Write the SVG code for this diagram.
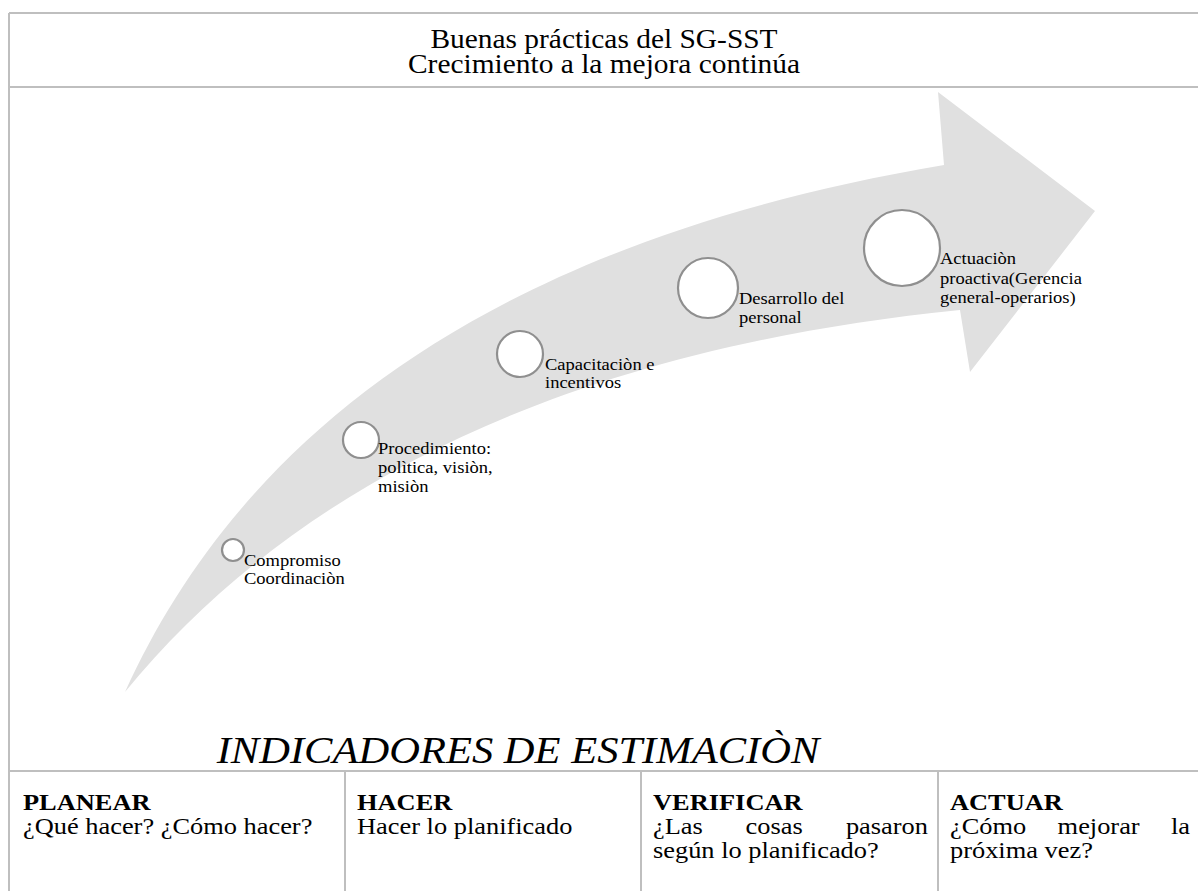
<svg xmlns="http://www.w3.org/2000/svg" width="1198" height="891" viewBox="0 0 1198 891">
  <style>
    text { font-family: "Liberation Serif", "Times New Roman", serif; fill: #000; }
    .title { font-size: 27.5px; }
    .lbl { font-size: 17px; }
    .grid { stroke: #bfbfbf; stroke-width: 2; fill: none; }
    .dot { fill: #fff; stroke: #8f8f8f; stroke-width: 2.2; }
    .head { font-size: 24px; font-weight: bold; }
    .cell { font-size: 24px; }
    .ind { font-size: 38px; font-style: italic; }
  </style>

  <!-- table frame -->
  <g id="frame" class="grid">
    <line x1="9" y1="13" x2="1198" y2="13"/>
    <line x1="9" y1="13" x2="9" y2="891"/>
    <line x1="9" y1="87" x2="1198" y2="87"/>
    <line x1="9" y1="771" x2="1198" y2="771"/>
    <line x1="345" y1="771" x2="345" y2="891"/>
    <line x1="641" y1="771" x2="641" y2="891"/>
    <line x1="938" y1="771" x2="938" y2="891"/>
  </g>

  <!-- header: text is set slightly wide (x-scaled) -->
  <g id="title">
    <text class="title" text-anchor="middle" transform="translate(604,48) scale(1.07,1)">Buenas prácticas del SG-SST</text>
    <text class="title" text-anchor="middle" transform="translate(604,73) scale(1.07,1)">Crecimiento a la mejora continúa</text>
  </g>

  <!-- curved growth arrow -->
  <g id="arrow">
    <path d="M125,692 C235,450 470,245 944,165 L938,92 L1095,211 L970,372 L960,310 C560,350 290,490 125,692 Z" fill="#e0e0e0"/>
  </g>

  <g id="step1">
    <circle class="dot" cx="233" cy="550" r="11"/>
    <text class="lbl" transform="translate(244,566) scale(1.09,1)">Compromiso</text>
    <text class="lbl" transform="translate(244,584) scale(1.09,1)">Coordinaciòn</text>
  </g>
  <g id="step2">
    <circle class="dot" cx="361" cy="440" r="18"/>
    <text class="lbl" transform="translate(378,454) scale(1.09,1)">Procedimiento:</text>
    <text class="lbl" transform="translate(378,473) scale(1.09,1)">polìtica, visiòn,</text>
    <text class="lbl" transform="translate(378,492) scale(1.09,1)">misiòn</text>
  </g>
  <g id="step3">
    <circle class="dot" cx="520" cy="354" r="23"/>
    <text class="lbl" transform="translate(545,370) scale(1.09,1)">Capacitaciòn e</text>
    <text class="lbl" transform="translate(545,388) scale(1.09,1)">incentivos</text>
  </g>
  <g id="step4">
    <circle class="dot" cx="708" cy="288" r="30"/>
    <text class="lbl" transform="translate(739,304) scale(1.09,1)">Desarrollo del</text>
    <text class="lbl" transform="translate(739,323) scale(1.09,1)">personal</text>
  </g>
  <g id="step5">
    <circle class="dot" cx="902" cy="248" r="38"/>
    <text class="lbl" transform="translate(940,264) scale(1.09,1)">Actuaciòn</text>
    <text class="lbl" transform="translate(940,284) scale(1.09,1)">proactiva(Gerencia</text>
    <text class="lbl" transform="translate(940,303) scale(1.09,1)">general-operarios)</text>
  </g>

  <g id="indicators">
    <text class="ind" text-anchor="middle" transform="translate(518,763) scale(1.12,1)">INDICADORES DE ESTIMACIÒN</text>
  </g>

  <!-- PHVA cells -->
  <g id="planear">
    <text class="head" transform="translate(23,810) scale(1.1,1)">PLANEAR</text>
    <text class="cell" transform="translate(23,834) scale(1.1,1)">¿Qué hacer? ¿Cómo hacer?</text>
  </g>
  <g id="hacer">
    <text class="head" transform="translate(357,810) scale(1.1,1)">HACER</text>
    <text class="cell" transform="translate(357,834) scale(1.1,1)">Hacer lo planificado</text>
  </g>
  <g id="verificar">
    <text class="head" transform="translate(653,810) scale(1.1,1)">VERIFICAR</text>
    <text class="cell" transform="translate(653,834) scale(1.1,1)">¿Las</text>
    <text class="cell" transform="translate(745.6,834) scale(1.1,1)">cosas</text>
    <text class="cell" text-anchor="end" transform="translate(928,834) scale(1.1,1)">pasaron</text>
    <text class="cell" transform="translate(653,858) scale(1.1,1)">según lo planificado?</text>
  </g>
  <g id="actuar">
    <text class="head" transform="translate(950,810) scale(1.1,1)">ACTUAR</text>
    <text class="cell" transform="translate(950,834) scale(1.1,1)">¿Cómo</text>
    <text class="cell" transform="translate(1057.6,834) scale(1.1,1)">mejorar</text>
    <text class="cell" text-anchor="end" transform="translate(1190,834) scale(1.1,1)">la</text>
    <text class="cell" transform="translate(950,858) scale(1.1,1)">próxima vez?</text>
  </g>
</svg>
